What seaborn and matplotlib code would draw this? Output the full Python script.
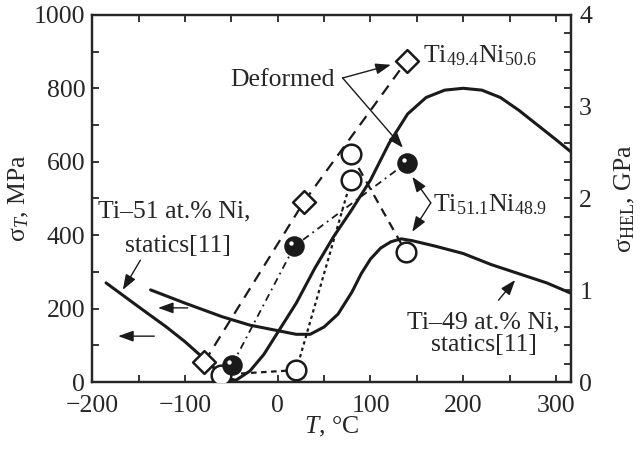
import numpy as np
import pandas as pd
import matplotlib
matplotlib.use("Agg")
import matplotlib.pyplot as plt
import matplotlib.transforms as mtrans
from matplotlib.ticker import MultipleLocator
import seaborn as sns

# ---- data ----
# Ti-51 at.% Ni statics [11], left axis (MPa)
ti51_T = [-185, -150, -120, -100, -80, -65, -55, -45, -30, -15, 0, 20, 40, 60, 80,
          100, 120, 140, 160, 180, 200, 220, 240, 260, 280, 300, 316]
ti51_sigma = [270, 205, 150, 110, 65, 30, 10, 5, 30, 75, 135, 215, 310, 395, 470,
              550, 650, 730, 775, 795, 800, 795, 775, 740, 700, 660, 627]
# Ti-49 at.% Ni statics [11], left axis (MPa)
ti49_T = [-137, -100, -60, -30, 0, 20, 35, 50, 65, 80, 90, 100, 111, 122, 133, 145,
          170, 200, 230, 260, 290, 316]
ti49_sigma = [251, 215, 178, 155, 140, 130, 130, 150, 185, 245, 295, 335, 365, 382,
              390, 385, 370, 350, 320, 295, 270, 242]
# HEL data, right axis (GPa)
dia_T = [-79, 28, 139]
dia_hel = [0.22, 1.96, 3.50]          # Ti49.4Ni50.6
fill_T = [-49, 18, 139]
fill_hel = [0.19, 1.48, 2.39]         # Ti51.1Ni48.9 deformed
open_T = [-61, 20, 79, 79, 138]
open_hel = [0.08, 0.13, 2.20, 2.48, 1.42]  # Ti51.1Ni48.9
open_path_a = [0, 1]
open_path_b = [1, 2]
open_path_c = [3, 4]

x_ticks = [-200, -100, 0, 100, 200, 300]
x_labels = ["\u2212200", "\u2212100", "0", "100", "200", "300"]
yl_ticks = [0, 200, 400, 600, 800, 1000]
yr_ticks = [0, 1, 2, 3, 4]

FS = 18.5

# ---- style ----
sns.set_theme(style="ticks")
plt.rcParams["font.family"] = ["Liberation Serif", "DejaVu Serif"]
plt.rcParams["mathtext.fontset"] = "custom"
plt.rcParams["mathtext.rm"] = "Liberation Serif"
plt.rcParams["mathtext.it"] = "Liberation Serif:italic"
plt.rcParams["font.size"] = FS
plt.rcParams["axes.linewidth"] = 1.6

fig = plt.figure(figsize=(6.4, 4.5), dpi=100)
ax = fig.add_axes([0.144, 0.151, 0.748, 0.816])
ax2 = ax.twinx()

# solid static curves (left axis)
sns.lineplot(x=ti51_T, y=ti51_sigma, ax=ax, color="k", lw=2.2, sort=False,
             estimator=None)
sns.lineplot(x=ti49_T, y=ti49_sigma, ax=ax, color="k", lw=2.2, sort=False,
             estimator=None)

# HEL lines (right axis)
sns.lineplot(x=dia_T, y=dia_hel, ax=ax2, color="k", lw=1.6, sort=False,
             estimator=None, linestyle=(0, (5, 3.5)))
sns.lineplot(x=fill_T, y=fill_hel, ax=ax2, color="k", lw=1.3, sort=False,
             estimator=None, linestyle=(0, (4, 2.5, 1, 2.5)))
sns.lineplot(x=[open_T[i] for i in open_path_a], y=[open_hel[i] for i in open_path_a],
             ax=ax2, color="k", lw=1.6, sort=False, estimator=None,
             linestyle=(0, (2.5, 2)))
sns.lineplot(x=[open_T[i] for i in open_path_b], y=[open_hel[i] for i in open_path_b],
             ax=ax2, color="k", lw=1.6, sort=False, estimator=None,
             linestyle=(0, (1.5, 1.5)))
sns.lineplot(x=[open_T[i] for i in open_path_c], y=[open_hel[i] for i in open_path_c],
             ax=ax2, color="k", lw=1.6, sort=False, estimator=None,
             linestyle=(0, (4, 3)))

# markers
sns.scatterplot(x=dia_T, y=dia_hel, ax=ax2, marker="D", s=135, facecolor="white",
                edgecolor="k", linewidth=1.8, zorder=5)
sns.scatterplot(x=open_T, y=open_hel, ax=ax2, marker="o", s=200, facecolor="white",
                edgecolor="k", linewidth=1.8, zorder=5)
sns.scatterplot(x=fill_T, y=fill_hel, ax=ax2, marker="o", s=190, facecolor="k",
                edgecolor="k", linewidth=1.0, zorder=6)
hl = mtrans.offset_copy(ax2.transData, fig=fig, x=-3, y=3, units="dots")
ax2.scatter(fill_T, fill_hel, s=10, color="white", transform=hl, zorder=7,
            linewidths=0)

# axes limits / ticks
ax.set_xlim(-200, 316)
ax.set_ylim(0, 1000)
ax2.set_ylim(0, 4)
ax.set_xticks(x_ticks)
ax.set_yticks(yl_ticks)
ax2.set_yticks(yr_ticks)
ax.xaxis.set_minor_locator(MultipleLocator(50))
ax.yaxis.set_minor_locator(MultipleLocator(100))
ax2.yaxis.set_minor_locator(MultipleLocator(0.2))
ax.set_xticklabels(x_labels)
ax.tick_params(axis="x", which="both", direction="in", top=True, bottom=True,
               length=5, width=1.3, labelsize=FS, pad=9)
ax.tick_params(axis="y", which="both", direction="in", left=True, right=False,
               length=5, width=1.3, labelsize=FS, pad=5)
ax2.tick_params(axis="y", which="both", direction="in", right=True, left=False,
                length=5, width=1.3, labelsize=FS, pad=6)
for a in (ax, ax2):
    for s in a.spines.values():
        s.set_visible(True)
        s.set_linewidth(1.6)

ax.set_xlabel(r"$T$, °C", fontsize=FS, labelpad=-1)
ax.set_ylabel(r"σ$_{T}$, MPa", fontsize=FS, labelpad=2)
ax2.set_ylabel(r"σ$_{\mathrm{HEL}}$, GPa", fontsize=FS, labelpad=15)

# annotations
arr = dict(arrowstyle="-|>,head_length=0.5,head_width=0.18", color="k", lw=1.0,
           shrinkA=0, shrinkB=0)
ax.text(-112, 465, "Ti\u201351 at.% Ni,", ha="center", va="center", fontsize=FS)
ax.text(-108, 370, "statics[11]", ha="center", va="center", fontsize=FS)
ax.annotate("", xy=(-167, 251), xytext=(-148, 332), arrowprops=arr)
ax.annotate("", xy=(-129, 202), xytext=(-97, 202), arrowprops=arr)
ax.annotate("", xy=(-172, 125), xytext=(-133, 125), arrowprops=arr)

ax.text(222, 163, "Ti\u201349 at.% Ni,", ha="center", va="center", fontsize=FS)
ax.text(222, 100, "statics[11]", ha="center", va="center", fontsize=FS)
ax.annotate("", xy=(256, 278), xytext=(238, 223), arrowprops=arr)

ax.text(62, 822, "Deformed", ha="right", va="center", fontsize=FS)
ax.annotate("", xy=(122, 864), xytext=(70, 828), arrowprops=arr)
ax.annotate("", xy=(135, 638), xytext=(70, 828), arrowprops=arr)

ax.text(157, 888, r"Ti$_{\mathrm{49.4}}$Ni$_{\mathrm{50.6}}$", ha="left",
        va="center", fontsize=FS)
ax.text(167, 482, r"Ti$_{\mathrm{51.1}}$Ni$_{\mathrm{48.9}}$", ha="left",
        va="center", fontsize=FS)
ax.annotate("", xy=(145, 559), xytext=(165, 488), arrowprops=arr)
ax.annotate("", xy=(145, 409), xytext=(165, 488), arrowprops=arr)

fig.savefig("out.png", dpi=100)
